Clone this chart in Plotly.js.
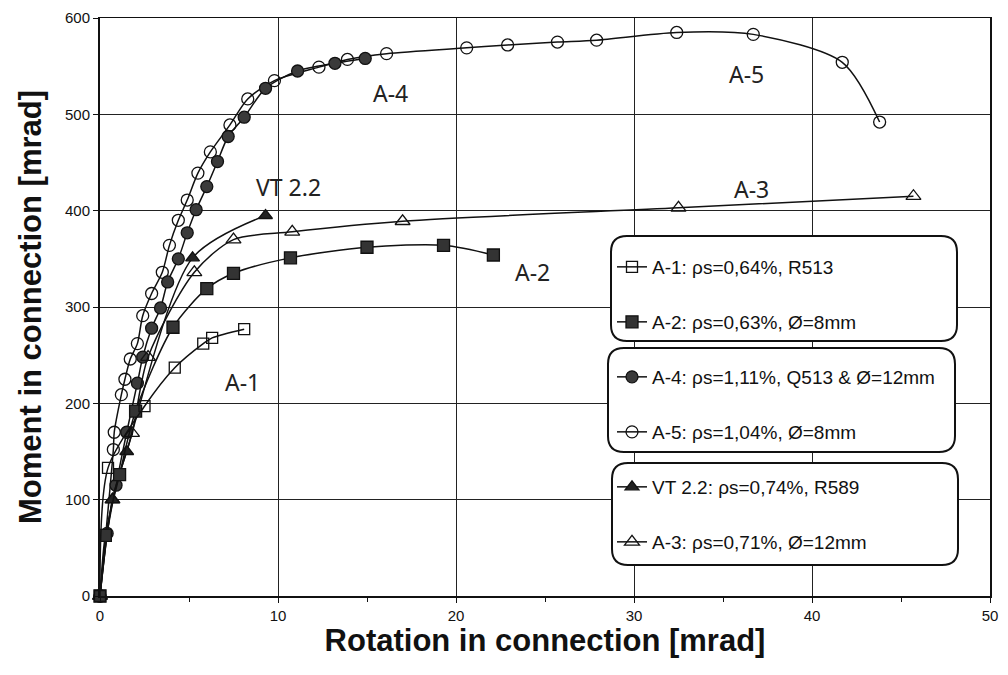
<!DOCTYPE html>
<html>
<head>
<meta charset="utf-8">
<script src="https://cdn.plot.ly/plotly-3.0.1.min.js"></script>
<style>html,body{margin:0;padding:0;background:#fff;}#chart{width:1008px;height:675px;}</style>
</head>
<body>
<div id="chart"></div>
<script>
// ---- data (rotation [mrad], moment) ----
const A1_x = [0, 0.45, 2.5, 4.2, 5.8, 6.3, 8.1];
const A1_y = [0, 133, 197, 237, 262, 268, 277];

const A2_x = [0, 0.3, 1.1, 2.0, 4.1, 6.0, 7.5, 10.7, 15.0, 19.3, 22.1];
const A2_y = [0, 63, 126, 192, 279, 319, 335, 351, 362, 364, 354];

const A3_x = [0, 0.7, 1.8, 2.7, 5.3, 7.5, 10.8, 17.0, 32.5, 45.7];
const A3_y = [0, 100, 169, 248, 336, 370, 378, 389, 403, 415];

const VT_x = [0, 0.7, 1.5, 5.2, 9.3];
const VT_y = [0, 100, 150, 351, 395];

const A4_x = [0, 0.4, 0.9, 1.5, 2.1, 2.4, 2.9, 3.4, 3.8, 4.4, 4.9, 5.4, 6.0, 6.6, 7.2, 8.1, 9.3, 11.1, 13.2, 14.9];
const A4_y = [0, 65, 115, 170, 221, 248, 278, 299, 326, 350, 377, 401, 425, 451, 477, 497, 527, 545, 553, 558];

const A5_x = [0, 0.75, 0.8, 1.2, 1.4, 1.7, 2.1, 2.4, 2.9, 3.5, 3.9, 4.4, 4.9, 5.5, 6.2, 7.3, 8.3, 9.8, 12.3, 13.9, 16.1, 20.6, 22.9, 25.7, 27.9, 32.4, 36.7, 41.7, 43.8];
const A5_y = [0, 152, 170, 209, 225, 246, 262, 291, 314, 336, 364, 390, 411, 439, 461, 489, 516, 535, 549, 557, 563, 569, 572, 575, 577, 585, 583, 554, 492];

const seriesNames = [
  "A-1: ρs=0,64%, R513",
  "A-2: ρs=0,63%, Ø=8mm",
  "A-4: ρs=1,11%, Q513 & Ø=12mm",
  "A-5: ρs=1,04%, Ø=8mm",
  "VT 2.2: ρs=0,74%, R589",
  "A-3: ρs=0,71%, Ø=12mm"
];

const labelText = ["A-4", "A-5", "VT 2.2", "A-3", "A-2", "A-1"];
const labelX = [16.3, 36.3, 10.6, 36.6, 24.3, 8.0];
const labelY = [522, 542, 425, 423, 336, 222];

const xTicks = [0, 10, 20, 30, 40, 50];
const yTicks = [0, 100, 200, 300, 400, 500, 600];

// ---- styles ----
const LINE = {color: '#111', width: 1.5, shape: 'spline', smoothing: 0.8};
function tr(x, y, name, legend, sym, fill, size) {
  return {
    x: x, y: y, name: name, legend: legend,
    type: 'scatter', mode: 'lines+markers', cliponaxis: false,
    line: LINE,
    marker: {symbol: sym, size: size, color: fill, line: {color: '#111', width: 1.3}}
  };
}
const data = [
  tr(A5_x, A5_y, seriesNames[3], 'legend4', 'circle-open', '#111', 12),
  tr(A4_x, A4_y, seriesNames[2], 'legend3', 'circle', '#3a3a3a', 12),
  tr(A3_x, A3_y, seriesNames[5], 'legend6', 'triangle-up-open', '#111', 13),
  tr(VT_x, VT_y, seriesNames[4], 'legend5', 'triangle-up', '#222', 12),
  tr(A2_x, A2_y, seriesNames[1], 'legend2', 'square', '#333', 12),
  tr(A1_x, A1_y, seriesNames[0], 'legend', 'square-open', '#111', 11)
];

// ---- layout helpers (pixel -> paper) ----
const L = 100, R = 990, T = 18, B = 596;
const PX = p => (p - L) / (R - L);
const PY = p => (B - p) / (B - T);
function rrect(x0, y0, x1, y1, r) {
  const f = (a, b) => PX(a).toFixed(5) + ',' + PY(b).toFixed(5);
  return 'M' + f(x0 + r, y0) + ' L' + f(x1 - r, y0) + ' Q' + f(x1, y0) + ' ' + f(x1, y0 + r) +
    ' L' + f(x1, y1 - r) + ' Q' + f(x1, y1) + ' ' + f(x1 - r, y1) +
    ' L' + f(x0 + r, y1) + ' Q' + f(x0, y1) + ' ' + f(x0, y1 - r) +
    ' L' + f(x0, y0 + r) + ' Q' + f(x0, y0) + ' ' + f(x0 + r, y0) + ' Z';
}
const boxes = [[611, 236, 957, 341], [608, 348, 955, 452], [612, 463, 958, 565]];
const shapes = boxes.map(b => ({
  type: 'path', xref: 'paper', yref: 'paper', layer: 'above',
  path: rrect(b[0], b[1], b[2], b[3], 16),
  fillcolor: '#fff', line: {color: '#111', width: 2}
}));

const legFont = {family: 'Liberation Sans, Arial, sans-serif', size: 19, color: '#111'};
const legY = [267, 322, 377, 432, 487, 542];
const legKeys = ['legend', 'legend2', 'legend3', 'legend4', 'legend5', 'legend6'];
const titleFont = {size: 31, family: 'Liberation Sans, Arial, sans-serif', weight: 'bold', color: '#111'};
const layout = {
  width: 1008, height: 675,
  margin: {l: L, r: 1008 - R, t: T, b: 675 - B},
  paper_bgcolor: '#fff', plot_bgcolor: '#fff',
  font: {family: 'Liberation Sans, Arial, sans-serif', color: '#111'},
  xaxis: {
    range: [0, 50], tickvals: xTicks, ticktext: xTicks.map(String),
    showgrid: true, gridcolor: '#222', gridwidth: 1,
    showline: true, linecolor: '#111', linewidth: 1.5, mirror: true,
    ticks: 'outside', ticklen: 5, tickcolor: '#111',
    minor: {dtick: 5, ticks: 'outside', ticklen: 4, tickcolor: '#111', showgrid: false},
    zeroline: false, tickfont: {size: 15, color: '#111'},
    title: {text: 'Rotation in connection [mrad]', font: titleFont, standoff: 4},
    automargin: false
  },
  yaxis: {
    range: [0, 600], tickvals: yTicks, ticktext: yTicks.map(String),
    showgrid: true, gridcolor: '#222', gridwidth: 1,
    showline: true, linecolor: '#111', linewidth: 2, mirror: true,
    ticks: 'outside', ticklen: 5, tickcolor: '#111',
    zeroline: false, tickfont: {size: 15, color: '#111'},
    title: {text: 'Moment in connection [mrad]', font: titleFont, standoff: 14},
    automargin: false
  },
  showlegend: true,
  shapes: shapes,
  annotations: labelText.map((t, i) => ({
    x: labelX[i], y: labelY[i], xref: 'x', yref: 'y', text: t, showarrow: false,
    font: {family: 'Noto Sans, sans-serif', size: 23, color: '#222'}
  }))
};
legKeys.forEach((k, i) => {
  layout[k] = {
    x: PX(612), y: PY(legY[i]), xanchor: 'left', yanchor: 'middle',
    bgcolor: 'rgba(0,0,0,0)', borderwidth: 0, font: legFont, itemsizing: 'trace'
  };
});

Plotly.newPlot('chart', data, layout, {staticPlot: true, displayModeBar: false});
</script>
</body>
</html>
